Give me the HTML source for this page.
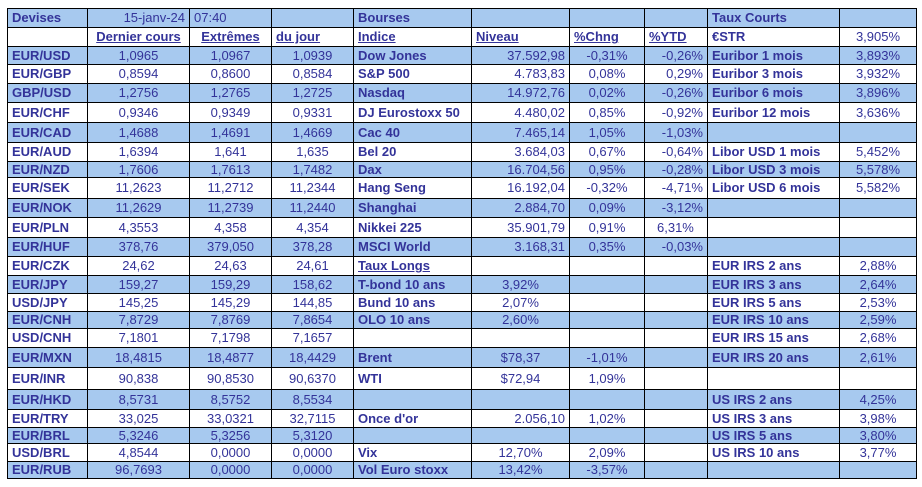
<!DOCTYPE html>
<html><head><meta charset="utf-8"><style>
body{margin:0;width:922px;height:487px;background:#fff;overflow:hidden;}
table{position:absolute;left:7px;top:8px;border-collapse:collapse;table-layout:fixed;font-family:"Liberation Sans",Arial,sans-serif;font-size:13px;color:#333399;}
td{border:1px solid #000;padding:0 4px;white-space:nowrap;overflow:hidden;line-height:14px;}
tr.b td{background:#a7c9ef;}
.l{font-weight:bold;text-align:left;}
.c{text-align:center;}
.r{text-align:right;}
.u{text-decoration:underline;font-weight:bold;}
</style></head><body>
<table>
<colgroup><col style="width:80px"><col style="width:102px"><col style="width:82px"><col style="width:82px"><col style="width:118px"><col style="width:98px"><col style="width:75px"><col style="width:63px"><col style="width:132px"><col style="width:77px"></colgroup>
<tr class="b" style="height:19px"><td class="l" style="font-weight:bold">Devises</td><td class="r">15-janv-24</td><td>07:40</td><td></td><td class="l">Bourses</td><td></td><td></td><td></td><td class="l">Taux Courts</td><td></td></tr>
<tr style="height:19px"><td></td><td class="c u">Dernier cours</td><td class="c u">Extrêmes</td><td class="u">du jour</td><td class="u">Indice</td><td class="u">Niveau</td><td class="u">%Chng</td><td class="u">%YTD</td><td class="l">€STR</td><td class="c">3,905%</td></tr>
<tr class="b" style="height:18px"><td class="l">EUR/USD</td><td class="c">1,0965</td><td class="c">1,0967</td><td class="c">1,0939</td><td class="l">Dow Jones</td><td class="r">37.592,98</td><td class="c">-0,31%</td><td class="r">-0,26%</td><td class="l">Euribor 1 mois</td><td class="c">3,893%</td></tr>
<tr style="height:19px"><td class="l">EUR/GBP</td><td class="c">0,8594</td><td class="c">0,8600</td><td class="c">0,8584</td><td class="l">S&amp;P 500</td><td class="r">4.783,83</td><td class="c">0,08%</td><td class="r">0,29%</td><td class="l">Euribor 3 mois</td><td class="c">3,932%</td></tr>
<tr class="b" style="height:19px"><td class="l">GBP/USD</td><td class="c">1,2756</td><td class="c">1,2765</td><td class="c">1,2725</td><td class="l">Nasdaq</td><td class="r">14.972,76</td><td class="c">0,02%</td><td class="r">-0,26%</td><td class="l">Euribor 6 mois</td><td class="c">3,896%</td></tr>
<tr style="height:20px"><td class="l">EUR/CHF</td><td class="c">0,9346</td><td class="c">0,9349</td><td class="c">0,9331</td><td class="l">DJ Eurostoxx 50</td><td class="r">4.480,02</td><td class="c">0,85%</td><td class="r">-0,92%</td><td class="l">Euribor 12 mois</td><td class="c">3,636%</td></tr>
<tr class="b" style="height:20px"><td class="l">EUR/CAD</td><td class="c">1,4688</td><td class="c">1,4691</td><td class="c">1,4669</td><td class="l">Cac 40</td><td class="r">7.465,14</td><td class="c">1,05%</td><td class="r">-1,03%</td><td></td><td></td></tr>
<tr style="height:19px"><td class="l">EUR/AUD</td><td class="c">1,6394</td><td class="c">1,641</td><td class="c">1,635</td><td class="l">Bel 20</td><td class="r">3.684,03</td><td class="c">0,67%</td><td class="r">-0,64%</td><td class="l">Libor USD 1 mois</td><td class="c">5,452%</td></tr>
<tr class="b" style="height:16px"><td class="l">EUR/NZD</td><td class="c">1,7606</td><td class="c">1,7613</td><td class="c">1,7482</td><td class="l">Dax</td><td class="r">16.704,56</td><td class="c">0,95%</td><td class="r">-0,28%</td><td class="l">Libor USD 3 mois</td><td class="c">5,578%</td></tr>
<tr style="height:21px"><td class="l">EUR/SEK</td><td class="c">11,2623</td><td class="c">11,2712</td><td class="c">11,2344</td><td class="l">Hang Seng</td><td class="r">16.192,04</td><td class="c">-0,32%</td><td class="r">-4,71%</td><td class="l">Libor USD 6 mois</td><td class="c">5,582%</td></tr>
<tr class="b" style="height:19px"><td class="l">EUR/NOK</td><td class="c">11,2629</td><td class="c">11,2739</td><td class="c">11,2440</td><td class="l">Shanghai</td><td class="r">2.884,70</td><td class="c">0,09%</td><td class="r">-3,12%</td><td></td><td></td></tr>
<tr style="height:20px"><td class="l">EUR/PLN</td><td class="c">4,3553</td><td class="c">4,358</td><td class="c">4,354</td><td class="l">Nikkei 225</td><td class="r">35.901,79</td><td class="c">0,91%</td><td style="padding-left:12px">6,31%</td><td></td><td></td></tr>
<tr class="b" style="height:19px"><td class="l">EUR/HUF</td><td class="c">378,76</td><td class="c">379,050</td><td class="c">378,28</td><td class="l">MSCI World</td><td class="r">3.168,31</td><td class="c">0,35%</td><td class="r">-0,03%</td><td></td><td></td></tr>
<tr style="height:19px"><td class="l">EUR/CZK</td><td class="c">24,62</td><td class="c">24,63</td><td class="c">24,61</td><td class="u">Taux Longs</td><td></td><td></td><td></td><td class="l">EUR IRS 2 ans</td><td class="c">2,88%</td></tr>
<tr class="b" style="height:18px"><td class="l">EUR/JPY</td><td class="c">159,27</td><td class="c">159,29</td><td class="c">158,62</td><td class="l">T-bond 10 ans</td><td class="c">3,92%</td><td></td><td></td><td class="l">EUR IRS 3 ans</td><td class="c">2,64%</td></tr>
<tr style="height:18px"><td class="l">USD/JPY</td><td class="c">145,25</td><td class="c">145,29</td><td class="c">144,85</td><td class="l">Bund 10 ans</td><td class="c">2,07%</td><td></td><td></td><td class="l">EUR IRS 5 ans</td><td class="c">2,53%</td></tr>
<tr class="b" style="height:17px"><td class="l">EUR/CNH</td><td class="c">7,8729</td><td class="c">7,8769</td><td class="c">7,8654</td><td class="l">OLO 10 ans</td><td class="c">2,60%</td><td></td><td></td><td class="l">EUR IRS 10 ans</td><td class="c">2,59%</td></tr>
<tr style="height:19px"><td class="l">USD/CNH</td><td class="c">7,1801</td><td class="c">7,1798</td><td class="c">7,1657</td><td></td><td></td><td></td><td></td><td class="l">EUR IRS 15 ans</td><td class="c">2,68%</td></tr>
<tr class="b" style="height:20px"><td class="l">EUR/MXN</td><td class="c">18,4815</td><td class="c">18,4877</td><td class="c">18,4429</td><td class="l">Brent</td><td class="c">$78,37</td><td class="c">-1,01%</td><td></td><td class="l">EUR IRS 20 ans</td><td class="c">2,61%</td></tr>
<tr style="height:22px"><td class="l">EUR/INR</td><td class="c">90,838</td><td class="c">90,8530</td><td class="c">90,6370</td><td class="l">WTI</td><td class="c">$72,94</td><td class="c">1,09%</td><td></td><td></td><td></td></tr>
<tr class="b" style="height:20px"><td class="l">EUR/HKD</td><td class="c">8,5731</td><td class="c">8,5752</td><td class="c">8,5534</td><td></td><td></td><td></td><td></td><td class="l">US IRS 2 ans</td><td class="c">4,25%</td></tr>
<tr style="height:18px"><td class="l">EUR/TRY</td><td class="c">33,025</td><td class="c">33,0321</td><td class="c">32,7115</td><td class="l">Once d'or</td><td class="r">2.056,10</td><td class="c">1,02%</td><td></td><td class="l">US IRS 3 ans</td><td class="c">3,98%</td></tr>
<tr class="b" style="height:16px"><td class="l">EUR/BRL</td><td class="c">5,3246</td><td class="c">5,3256</td><td class="c">5,3120</td><td></td><td></td><td></td><td></td><td class="l">US IRS 5 ans</td><td class="c">3,80%</td></tr>
<tr style="height:18px"><td class="l">USD/BRL</td><td class="c">4,8544</td><td class="c">0,0000</td><td class="c">0,0000</td><td class="l">Vix</td><td class="c">12,70%</td><td class="c">2,09%</td><td></td><td class="l">US IRS 10 ans</td><td class="c">3,77%</td></tr>
<tr class="b" style="height:17px"><td class="l">EUR/RUB</td><td class="c">96,7693</td><td class="c">0,0000</td><td class="c">0,0000</td><td class="l">Vol Euro stoxx</td><td class="c">13,42%</td><td class="c">-3,57%</td><td></td><td></td><td></td></tr>
</table>
</body></html>
